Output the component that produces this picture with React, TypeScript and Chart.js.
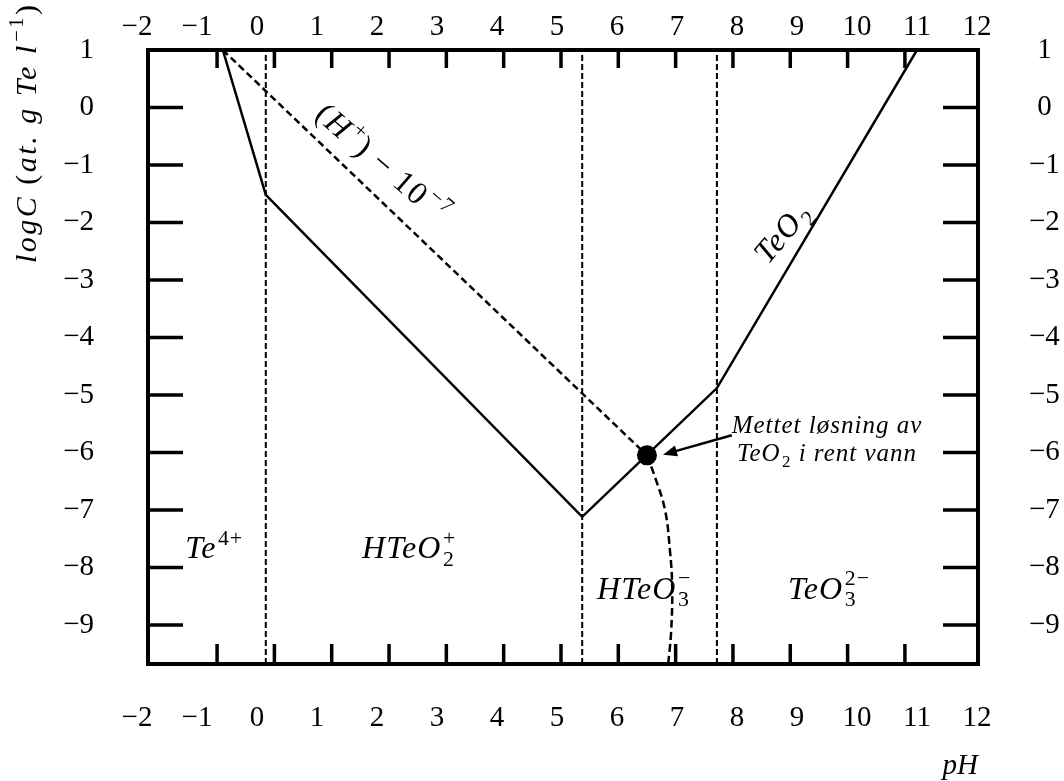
import React, { useEffect, useRef } from "react";
import { Chart, registerables } from "chart.js";

Chart.register(...registerables);

const FONT = '"Liberation Serif", "Times New Roman", serif';

// pH extent of the plotting frame and its inner tick marks
const phMin = -2.205;
const phMax = 12.275;
const phTickMarks = [-1, 0, 1, 2, 3, 4, 5, 6, 7, 8, 9, 10, 11];

// numbered pH scale printed above and below the frame
const phLabelMin = -1.817;
const phLabelMax = 12.017;
const phLabels = [-2, -1, 0, 1, 2, 3, 4, 5, 6, 7, 8, 9, 10, 11, 12];

// log C extent, tick marks and numbered labels
const logCMin = -9.68;
const logCMax = 1;
const logCTickMarks = [0, -1, -2, -3, -4, -5, -6, -7, -8, -9];
const logCLabels = [1, 0, -1, -2, -3, -4, -5, -6, -7, -8, -9];

// solubility boundary of TeO2
const solubilityPH = [-0.9, -0.15, 5.37, 7.72, 11.21];
const solubilityLogC = [1, -1.52, -7.12, -4.88, 1];

// (H+) = 10^-7 guide line
const guidePH = [-0.9, 6.5];
const guideLogC = [1, -6.05];

// dilution path of the saturated solution
const dilutionPH = [6.5, 6.64, 6.815, 6.9, 6.94, 6.92, 6.87];
const dilutionLogC = [-6.05, -6.43, -7.0, -7.7, -8.34, -9.14, -9.68];

// predominance boundaries between dissolved species
const boundaryPH = [-0.15, 5.37, 7.72];

// saturated TeO2 solution in pure water
const saturatedPH = 6.5;
const saturatedLogC = -6.05;

// arrow from the note to the saturation point
const arrowFromPH = 7.98;
const arrowFromLogC = -5.7;
const arrowToPH = 6.78;
const arrowToLogC = -6.04;

type Piece = { text: string; italic?: boolean; sup?: string; sub?: string };

type Note = { pieces: Piece[]; ph: number; logC: number; size: number; angle: number; spacing: number };

const notes: Note[] = [
  { pieces: [{ text: "Te", sup: "4+" }], ph: -1.05, logC: -7.66, size: 32, angle: 0, spacing: 1 },
  { pieces: [{ text: "HTeO", sub: "2", sup: "+" }], ph: 2.35, logC: -7.66, size: 32, angle: 0, spacing: 1 },
  { pieces: [{ text: "HTeO", sub: "3", sup: "\u2212" }], ph: 6.45, logC: -8.36, size: 32, angle: 0, spacing: 1 },
  { pieces: [{ text: "TeO", sub: "3", sup: "2\u2212" }], ph: 9.675, logC: -8.36, size: 32, angle: 0, spacing: 1 },
  { pieces: [{ text: "Mettet løsning av" }], ph: 9.64, logC: -5.51, size: 25, angle: 0, spacing: 1 },
  { pieces: [{ text: "TeO", sub: "2" }, { text: " i rent vann" }], ph: 9.64, logC: -6.01, size: 25, angle: 0, spacing: 1 },
  {
    pieces: [
      { text: "(", italic: false },
      { text: "H", sup: "+" },
      { text: ") \u2212 10", italic: false, sup: "\u22127" },
    ],
    ph: 1.895,
    logC: -0.97,
    size: 32,
    angle: 41,
    spacing: 1.5,
  },
  { pieces: [{ text: "TeO", sub: "2" }], ph: 8.856, logC: -2.17, size: 32, angle: -50, spacing: 1 },
];

const yTitle: Piece[] = [
  { text: "logC " },
  { text: "(", italic: false },
  { text: "at. g Te l", sup: "\u22121" },
  { text: ")", italic: false },
];

const fmt = (v: number) => (v < 0 ? "\u2212" + Math.abs(v) : String(v));
const toPoints = (xs: number[], ys: number[]) => xs.map((x, i) => ({ x, y: ys[i] }));

function pieceFont(size: number, italic: boolean) {
  return `${italic ? "italic " : ""}${size}px ${FONT}`;
}

function scriptWidth(ctx: CanvasRenderingContext2D, p: Piece, ss: number) {
  ctx.font = pieceFont(ss, false);
  const a = p.sup ? ctx.measureText(p.sup).width : 0;
  const b = p.sub ? ctx.measureText(p.sub).width : 0;
  return Math.max(a, b);
}

function measureRich(ctx: CanvasRenderingContext2D, pieces: Piece[], size: number) {
  const ss = size * 0.68;
  let w = 0;
  for (const p of pieces) {
    ctx.font = pieceFont(size, p.italic !== false);
    w += ctx.measureText(p.text).width;
    const sw = scriptWidth(ctx, p, ss);
    if (sw) w += sw + size * 0.05;
  }
  return w;
}

function drawRich(
  ctx: CanvasRenderingContext2D,
  pieces: Piece[],
  x: number,
  baseline: number,
  size: number,
  align: "left" | "center",
  spacing: number
) {
  const ss = size * 0.68;
  (ctx as any).letterSpacing = `${spacing}px`;
  const total = measureRich(ctx, pieces, size);
  let cx = align === "center" ? x - total / 2 : x;
  ctx.textAlign = "left";
  ctx.textBaseline = "alphabetic";
  for (const p of pieces) {
    ctx.font = pieceFont(size, p.italic !== false);
    ctx.fillText(p.text, cx, baseline);
    cx += ctx.measureText(p.text).width;
    const sw = scriptWidth(ctx, p, ss);
    if (sw) {
      cx += size * 0.05;
      ctx.font = pieceFont(ss, false);
      if (p.sup) ctx.fillText(p.sup, cx, baseline - size * 0.43);
      if (p.sub) ctx.fillText(p.sub, cx, baseline + size * 0.24);
      cx += sw;
    }
  }
  (ctx as any).letterSpacing = "0px";
}

const decorPlugin = {
  id: "pourbaixDecor",
  afterDatasetsDraw(chart: any) {
    const { ctx, chartArea: a, scales } = chart;
    const sx = scales.x;
    const sy = scales.y;
    ctx.save();
    ctx.strokeStyle = "#000";
    ctx.fillStyle = "#000";
    ctx.lineCap = "butt";

    // inner tick marks on all four sides
    ctx.lineWidth = 3.5;
    ctx.beginPath();
    for (const v of phTickMarks) {
      const px = sx.getPixelForValue(v);
      ctx.moveTo(px, a.bottom);
      ctx.lineTo(px, a.bottom - 20);
      ctx.moveTo(px, a.top);
      ctx.lineTo(px, a.top + 18);
    }
    for (const v of logCTickMarks) {
      const py = sy.getPixelForValue(v);
      ctx.moveTo(a.left, py);
      ctx.lineTo(a.left + 35, py);
      ctx.moveTo(a.right, py);
      ctx.lineTo(a.right - 35, py);
    }
    ctx.stroke();

    // frame
    ctx.lineWidth = 4;
    ctx.strokeRect(a.left, a.top, a.right - a.left, a.bottom - a.top);

    // arrow pointing at the saturation point
    const x0 = sx.getPixelForValue(arrowFromPH);
    const y0 = sy.getPixelForValue(arrowFromLogC);
    const x1 = sx.getPixelForValue(arrowToPH);
    const y1 = sy.getPixelForValue(arrowToLogC);
    const len = Math.hypot(x1 - x0, y1 - y0);
    const ux = (x1 - x0) / len;
    const uy = (y1 - y0) / len;
    const head = 14;
    const half = 5.5;
    ctx.lineWidth = 2.5;
    ctx.beginPath();
    ctx.moveTo(x0, y0);
    ctx.lineTo(x1 - ux * head * 0.8, y1 - uy * head * 0.8);
    ctx.stroke();
    ctx.beginPath();
    ctx.moveTo(x1, y1);
    ctx.lineTo(x1 - ux * head - uy * half, y1 - uy * head + ux * half);
    ctx.lineTo(x1 - ux * head + uy * half, y1 - uy * head - ux * half);
    ctx.closePath();
    ctx.fill();

    // species and annotation labels
    for (const n of notes) {
      const px = sx.getPixelForValue(n.ph);
      const py = sy.getPixelForValue(n.logC);
      ctx.save();
      ctx.translate(px, py);
      ctx.rotate((n.angle * Math.PI) / 180);
      drawRich(ctx, n.pieces, 0, n.size * 0.33, n.size, "center", n.spacing);
      ctx.restore();
    }

    // vertical axis title
    ctx.save();
    ctx.translate(36, 263);
    ctx.rotate(-Math.PI / 2);
    drawRich(ctx, yTitle, 0, 0, 30, "left", 2.5);
    ctx.restore();

    ctx.restore();
  },
};

export default function App() {
  const canvasRef = useRef<HTMLCanvasElement | null>(null);

  useEffect(() => {
    document.body.style.margin = "0";
    const canvas = canvasRef.current;
    if (!canvas) return;

    const tickFont = { family: FONT, size: 29, lineHeight: 1 };
    const labelAxis = (position: "top" | "bottom", padding: number, height: number, withTitle: boolean) => ({
      type: "linear" as const,
      position,
      min: phLabelMin,
      max: phLabelMax,
      grid: { display: false, drawTicks: false },
      border: { display: false },
      afterBuildTicks: (s: any) => {
        s.ticks = phLabels.map((v) => ({ value: v }));
      },
      afterFit: (s: any) => {
        s.height = height;
        s.paddingLeft = 0;
        s.paddingRight = 0;
      },
      ticks: {
        autoSkip: false,
        maxRotation: 0,
        minRotation: 0,
        padding,
        color: "#000",
        font: tickFont,
        callback: (v: any) => fmt(Number(v)),
      },
      title: {
        display: withTitle,
        text: "pH",
        align: "end" as const,
        color: "#000",
        font: { family: FONT, size: 29, style: "italic" as const, lineHeight: 1 },
        padding: { top: 0, bottom: 0 },
      },
    });

    const valueAxis = (position: "left" | "right", padding: number, width: number) => ({
      type: "linear" as const,
      position,
      min: logCMin,
      max: logCMax,
      grid: { display: false, drawTicks: false },
      border: { display: false },
      afterBuildTicks: (s: any) => {
        s.ticks = logCLabels.map((v) => ({ value: v }));
      },
      afterFit: (s: any) => {
        s.width = width;
        s.paddingTop = 0;
        s.paddingBottom = 0;
      },
      ticks: {
        autoSkip: false,
        padding,
        crossAlign: position === "right" ? ("center" as const) : ("near" as const),
        color: "#000",
        font: tickFont,
        callback: (v: any) => fmt(Number(v)),
      },
    });

    const line = (data: { x: number; y: number }[], width: number, dash: number[], tension = 0) => ({
      data,
      showLine: true,
      borderColor: "#000",
      borderWidth: width,
      borderDash: dash,
      pointRadius: 0,
      fill: false,
      tension,
      xAxisID: "x",
      yAxisID: "y",
    });

    const chart = new Chart(canvas, {
      type: "scatter",
      data: {
        datasets: [
          line(toPoints(solubilityPH, solubilityLogC), 2.5, []),
          line(toPoints(guidePH, guideLogC), 2.5, [7, 4]),
          line(toPoints(dilutionPH, dilutionLogC), 2.5, [8, 4], 0.4),
          ...boundaryPH.map((p) =>
            line(
              [
                { x: p, y: logCMin },
                { x: p, y: logCMax },
              ],
              2,
              [6, 3]
            )
          ),
          {
            data: [{ x: saturatedPH, y: saturatedLogC }],
            showLine: false,
            pointRadius: 10,
            pointBackgroundColor: "#000",
            pointBorderColor: "#000",
            pointBorderWidth: 0,
            xAxisID: "x",
            yAxisID: "y",
          },
        ] as any,
      },
      options: {
        responsive: false,
        maintainAspectRatio: false,
        devicePixelRatio: 1,
        animation: false,
        layout: { padding: 0 },
        plugins: {
          legend: { display: false },
          tooltip: { enabled: false },
        },
        scales: {
          x: { type: "linear", position: "bottom", min: phMin, max: phMax, display: false },
          xb: labelAxis("bottom", 39.5, 117, true),
          xt: labelAxis("top", 8, 50, false),
          y: valueAxis("left", 54, 148),
          y2: valueAxis("right", 51, 86),
        } as any,
      },
      plugins: [decorPlugin],
    });

    return () => chart.destroy();
  }, []);

  return <canvas ref={canvasRef} width={1064} height={781} style={{ display: "block" }} />;
}
